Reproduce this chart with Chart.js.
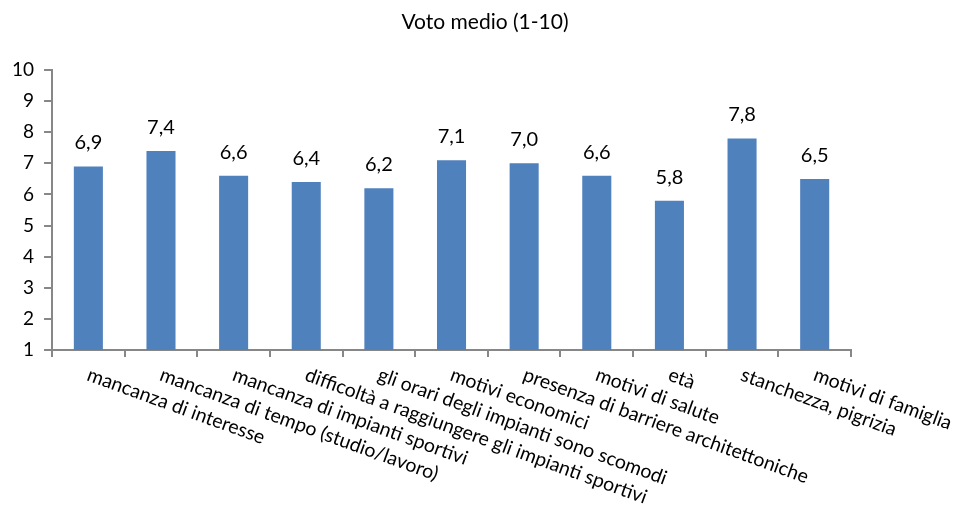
<!DOCTYPE html>
<html>
<head>
<meta charset="utf-8">
<script src="https://cdn.jsdelivr.net/npm/chart.js@4.4.1/dist/chart.umd.min.js"></script>
<style>
  html, body { margin: 0; padding: 0; background: #fff; }
  #wrap { width: 957px; height: 509px; }
</style>
</head>
<body>
<div id="wrap"><canvas id="voti"></canvas></div>
<script>
// categorie (motivi) e voto medio per ciascuna
const motivi = [
  "mancanza di interesse",
  "mancanza di tempo (studio/lavoro)",
  "mancanza di impianti sportivi",
  "difficoltà a raggiungere gli impianti sportivi",
  "gli orari degli impianti sono scomodi",
  "motivi economici",
  "presenza di barriere architettoniche",
  "motivi di salute",
  "età",
  "stanchezza, pigrizia",
  "motivi di famiglia"
];
const votoMedio = [6.9, 7.4, 6.6, 6.4, 6.2, 7.1, 7.0, 6.6, 5.8, 7.8, 6.5];
const titolo = "Voto medio (1-10)";

const FONT = "Lato, 'Open Sans', sans-serif";
const GRIGIO = "#878787";

// scrive titolo, valori sopra le barre ed etichette inclinate sotto l'asse
const etichette = {
  id: "etichette",
  afterDraw(chart) {
    const ctx = chart.ctx;
    const x = chart.scales.x;
    const meta = chart.getDatasetMeta(0);
    ctx.save();
    ctx.fillStyle = "#000";

    // titolo
    ctx.font = "21px " + FONT;
    ctx.textAlign = "center";
    ctx.textBaseline = "middle";
    ctx.fillText(titolo, 485, 22);

    // valori
    ctx.font = "20px " + FONT;
    ctx.textBaseline = "alphabetic";
    meta.data.forEach((bar, i) => {
      ctx.fillText(votoMedio[i].toFixed(1).replace(".", ","), bar.x, bar.y - 17);
    });

    // categorie
    ctx.font = "19.5px " + FONT;
    ctx.textAlign = "left";
    ctx.textBaseline = "top";
    motivi.forEach((m, i) => {
      ctx.save();
      ctx.translate(x.getPixelForValue(i) + 3, x.top + 15);
      ctx.rotate(20 * Math.PI / 180);
      ctx.fillText(m, 0, 0);
      ctx.restore();
    });
    ctx.restore();
  }
};

new Chart(document.getElementById("voti"), {
  type: "bar",
  plugins: [etichette],
  data: {
    labels: motivi,
    datasets: [{
      data: votoMedio,
      backgroundColor: "#4f81bd",
      barPercentage: 0.4,
      categoryPercentage: 1
    }]
  },
  options: {
    responsive: true,
    maintainAspectRatio: false,
    animation: false,
    layout: { padding: { left: 2, right: 106, top: 70, bottom: 152 } },
    plugins: {
      legend: { display: false },
      tooltip: { enabled: false },
      title: { display: false }
    },
    scales: {
      x: {
        grid: { offset: true, drawOnChartArea: false, color: GRIGIO, lineWidth: 2, tickLength: 7 },
        border: { color: GRIGIO, width: 2 },
        ticks: { display: false }
      },
      y: {
        min: 1,
        max: 10,
        ticks: { stepSize: 1, color: "#000", font: { family: FONT, size: 19 }, padding: 10 },
        grid: { drawOnChartArea: false, color: GRIGIO, lineWidth: 2, tickLength: 8 },
        border: { color: GRIGIO, width: 2 }
      }
    }
  }
});
</script>
</body>
</html>
